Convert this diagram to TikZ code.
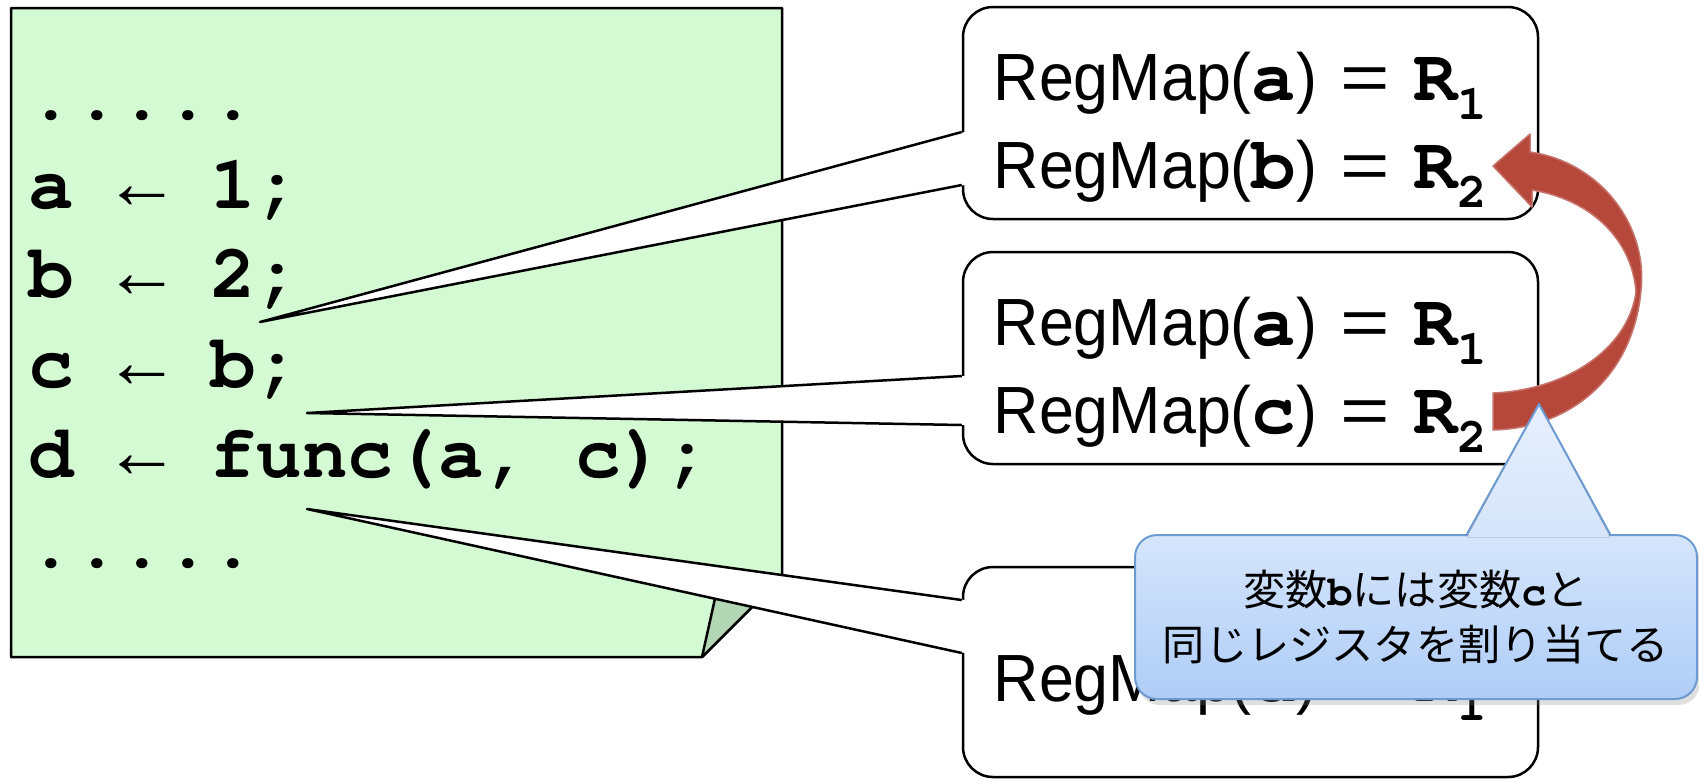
\documentclass[tikz,border=0pt]{standalone}
\usepackage[T1]{fontenc}
\usepackage{fontspec}
\setmainfont{Liberation Sans}[FakeStretch=0.94]
\newfontfamily\arrowfont{Liberation Mono}
\newfontfamily\jpfont{Noto Sans CJK JP}
\usetikzlibrary{calc,shadows}
\definecolor{notegreen}{HTML}{D4FAD4}
\definecolor{foldgreen}{HTML}{B3D7B4}
\definecolor{arrowred}{HTML}{B5473B}
\definecolor{hintblue}{HTML}{6D9BD1}
\definecolor{hinttop}{HTML}{E6EFFD}
\definecolor{hintmid}{HTML}{D6E5FB}
\definecolor{hintbot}{HTML}{AECDF7}
\newcommand{\codebf}{\fontencoding{T1}\fontfamily{pcr}\fontseries{b}\selectfont}
\newcommand{\regmap}[2]{RegMap({\fontsize{21pt}{21pt}\codebf #1})\hspace{2.3mm}\scalebox{1.35}[1]{=}\hspace{2.4mm}{\fontsize{21pt}{21pt}\codebf R}\raisebox{-1.9mm}{\fontsize{14pt}{14pt}\codebf #2}}
\tikzset{
    regbox/.style={draw, line width=0.25mm, rounded corners=3mm, fill=white,
        minimum width=57.5mm, minimum height=21.2mm, inner sep=0pt},
    codeline/.style={anchor=base west, inner sep=0pt, font=\fontsize{21.6pt}{21.6pt}\codebf},
    mapline/.style={anchor=base west, inner sep=0pt, font=\fontsize{19pt}{19pt}\selectfont},
    tailline/.style={line width=0.25mm, line join=round},
    hintbox/.style={draw=hintblue, line width=0.2mm, rounded corners=2.2mm,
        top color=hintmid, bottom color=hintbot, minimum width=56.2mm, minimum height=16.4mm,
        align=center, inner sep=0pt, font=\jpfont\fontsize{12pt}{15.6pt}\selectfont,
        drop shadow={opacity=0.25, shadow xshift=0.3mm, shadow yshift=-0.6mm}}
}
\begin{document}
\begin{tikzpicture}[x=0.1mm,y=-0.1mm]
      \useasboundingbox (0,0) rectangle (1699,778);
      % the code sheet
      \filldraw[fill=notegreen, line width=0.25mm, line join=round] (11,8) -- (782,8) -- (782,577) -- (702,657) -- (11,657) -- cycle;
      \filldraw[fill=foldgreen, line width=0.25mm, line join=round] (702,657) -- (718,585) -- (782,577) -- cycle;
      \node[codeline] (dots1) at (28,119) {.....};
      \node[codeline] (lineA) at (28,208) {a {\arrowfont ←} 1;};
      \node[codeline] (lineB) at (28,297) {b {\arrowfont ←} 2;};
      \node[codeline] (lineC) at (28,387) {c {\arrowfont ←} b;};
      \node[codeline] (lineD) at (28,477) {d {\arrowfont ←} func(a, c);};
      \node[codeline] (dots2) at (28,567) {.....};
      % register maps
      \node[regbox] (box1) at (1250.5,113) {};
      \node[regbox] (box2) at (1250.5,358) {};
      \node[regbox, minimum height=21mm] (box3) at (1250.5,672) {};
      \node[mapline] (map1a) at (993,100) {\regmap{a}{1}};
      \node[mapline] (map1b) at (993,188) {\regmap{b}{2}};
      \node[mapline] (map2a) at (993,345) {\regmap{a}{1}};
      \node[mapline] (map2c) at (993,433) {\regmap{c}{2}};
      \node[mapline] (map3d) at (993,701) {\regmap{d}{1}};
      \coordinate (fromB) at (260,322);
      \coordinate (fromC) at (307,413);
      \coordinate (fromD) at (307,509);
      \foreach \b/\f/\u/\v in {box1/fromB/19/72, box2/fromC/18/67, box3/fromD/-72/-19}{
        \fill[white] (\f) -- ($(\b.west)+(3,\u)$) -- ($(\b.west)+(3,\v)$) -- cycle;
        \draw[tailline] ($(\b.west)+(0,\u)$) -- (\f) -- ($(\b.west)+(0,\v)$);
      }
      % R2 is handed over
      \filldraw[fill=arrowred, draw=arrowred!75!white, line width=0.15mm, line join=round]
        (1493,393) .. controls (1565,390) and (1628,350) .. (1636,292)
        .. controls (1632,240) and (1592,200) .. (1532,190) -- (1532,207) -- (1493,166)
        -- (1530,134) -- (1530,152) .. controls (1600,162) and (1648,225) .. (1641,290)
        .. controls (1634,372) and (1575,428) .. (1493,430) -- cycle;
      % remark
      \node[hintbox] (hint) at (1416,617) {変数{\codebf b}には変数{\codebf c}と\\同じレジスタを割り当てる};
      \coordinate (hintTip) at (1539,404);
      \fill[top color=hinttop, bottom color=hintmid] ($(hint.north)+(51,3)$) -- (hintTip) -- ($(hint.north)+(194,3)$) -- cycle;
      \draw[hintblue, line width=0.2mm, line join=round] ($(hint.north)+(51,0)$) -- (hintTip) -- ($(hint.north)+(194,0)$);
\end{tikzpicture}
\end{document}
